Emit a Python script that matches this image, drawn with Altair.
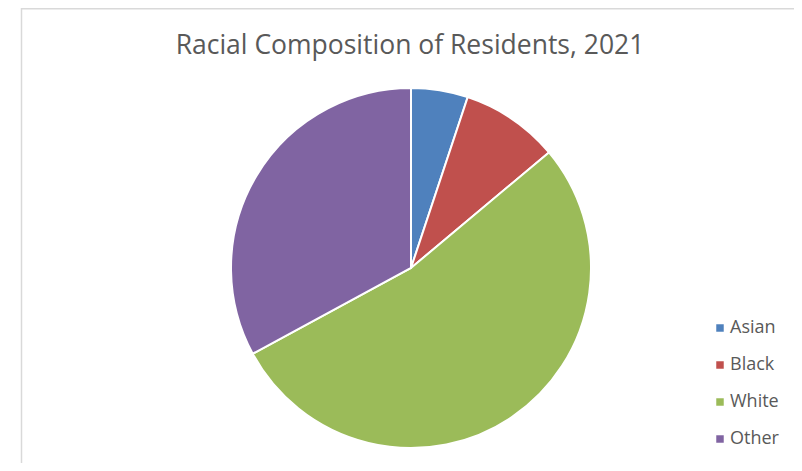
import altair as alt
import pandas as pd

categories = ["Asian", "Black", "White", "Other"]
shares = [5.1, 8.8, 53.2, 32.9]
colors = ["#4f81bd", "#c0504d", "#9bbb59", "#8064a2"]
title_text = "Racial Composition of Residents, 2021"

df = pd.DataFrame({"race": categories, "share": shares, "order": list(range(len(categories)))})

FONT = "Open Sans"

pie = alt.Chart(df).mark_arc(stroke="white", strokeWidth=2).encode(
    theta=alt.Theta("share:Q", stack=True),
    order=alt.Order("order:Q"),
    color=alt.Color(
        "race:N",
        sort=categories,
        scale=alt.Scale(domain=categories, range=colors),
        legend=alt.Legend(
            title=None,
            orient="none",
            legendX=703,
            legendY=311,
            symbolType="square",
            symbolSize=56,
            symbolStrokeWidth=0,
            labelFont=FONT,
            labelFontSize=18,
            labelColor="#595959",
            rowPadding=19,
            labelOffset=1,
        ),
    ),
    x=alt.value(403),
    y=alt.value(260),
    radius=alt.value(180),
)

one = pd.DataFrame({"k": [0]})

title = alt.Chart(one).mark_text(
    font=FONT, fontSize=26.5, color="#595959", align="center", baseline="alphabetic"
).encode(x=alt.value(402), y=alt.value(46), text=alt.value(title_text))

border = alt.Chart(one).mark_rect(fill=None, stroke="#d9d9d9", strokeWidth=1.5).encode(
    x=alt.value(13.5), y=alt.value(0.75), x2=alt.value(791), y2=alt.value(480)
)

chart = alt.layer(border, pie, title).properties(
    width=786, height=455, autosize=alt.AutoSizeParams(type="none"), padding=0
).configure_view(stroke=None)

chart.save("out.html", embed_options={"renderer": "svg", "actions": False})
